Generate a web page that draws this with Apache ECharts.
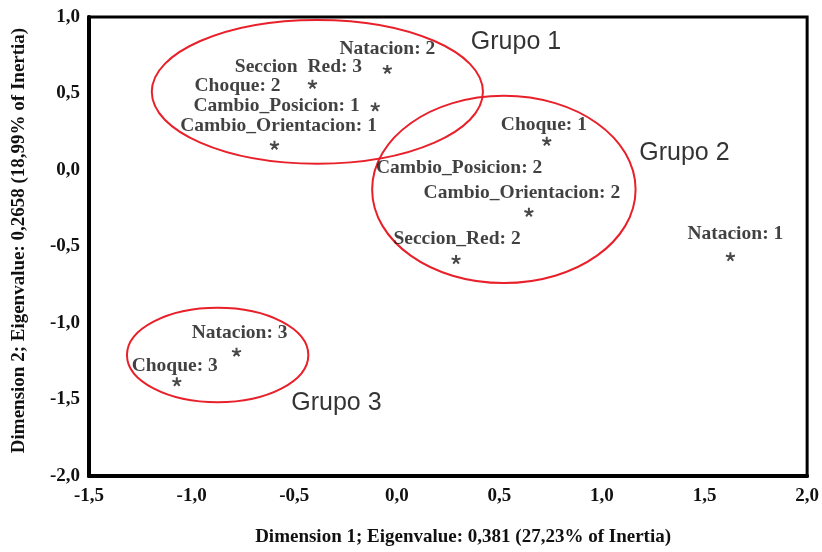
<!DOCTYPE html>
<html>
<head>
<meta charset="utf-8">
<script src="https://cdn.jsdelivr.net/npm/echarts@6/dist/echarts.min.js"></script>
<style>html,body{margin:0;padding:0;background:#fff}#c{width:822px;height:552px}</style>
</head>
<body>
<div id="c"></div>
<script>
// ---- data ----
const categoryNames = ['Natacion: 2','Seccion_Red: 3','Cambio_Posicion: 1','Cambio_Orientacion: 1','Choque: 1','Cambio_Orientacion: 2','Seccion_Red: 2','Natacion: 1','Natacion: 3','Choque: 3'];
const dim1 = [-0.046, -0.411, -0.105, -0.596, 0.731, 0.644, 0.289, 1.626, -0.781, -1.072];
const dim2 = [0.659, 0.562, 0.414, 0.163, 0.189, -0.275, -0.584, -0.565, -1.189, -1.383];

// point labels (text, anchor x, anchor y in data units)
const labelTexts = ['Natacion: 2','Seccion  Red: 3','Choque: 2','Cambio_Posicion: 1','Cambio_Orientacion: 1','Choque: 1','Cambio_Posicion: 2','Cambio_Orientacion: 2','Seccion_Red: 2','Natacion: 3','Choque: 3','Natacion: 1'];
const labelX = [-0.046, -0.479, -0.776, -0.586, -0.576, 0.717, 0.304, 0.610, 0.294, -0.766, -1.082, 1.650];
const labelY = [0.788, 0.672, 0.549, 0.420, 0.285, 0.292, 0.015, -0.153, -0.449, -1.067, -1.279, -0.417];

// group ellipses
const groupNames = ['Grupo 1','Grupo 2','Grupo 3'];
const groupCx = [-0.387, 0.522, -0.873];
const groupCy = [0.511, -0.127, -1.209];
const groupRx = [0.807, 0.642, 0.442];
const groupRy = [0.470, 0.612, 0.309];
const groupLabelX = [0.581, 1.402, -0.294];
const groupLabelY = [0.833, 0.111, -1.524];

// axes
const xTickLabels = ['-1,5','-1,0','-0,5','0,0','0,5','1,0','1,5','2,0'];
const yTickLabels = ['-2,0','-1,5','-1,0','-0,5','0,0','0,5','1,0'];
const xName = 'Dimension 1; Eigenvalue: 0,381 (27,23% of Inertia)';
const yName = 'Dimension 2; Eigenvalue: 0,2658 (18,99% of Inertia)';

// ---- chart ----
const serif = '"Liberation Serif","Times New Roman",serif';
const chart = echarts.init(document.getElementById('c'));
const X_MIN = -1.5, Y_MIN = -2.0, STEP = 0.5;

chart.setOption({
  animation: false,
  backgroundColor: '#fff',
  grid: { left: 89, top: 17, right: 13, bottom: 69, show: true, borderColor: '#000', borderWidth: 3, backgroundColor: 'transparent' },
  xAxis: {
    type: 'value', min: X_MIN, max: 2.0, interval: STEP,
    splitLine: { show: false }, axisTick: { show: false },
    axisLine: { show: true, onZero: false, lineStyle: { color: '#000', width: 4 } },
    axisLabel: { margin: 11, color: '#111', fontFamily: serif, fontWeight: 'bold', fontSize: 19,
      formatter: v => xTickLabels[Math.round((v - X_MIN) / STEP)] },
    name: xName, nameLocation: 'middle', nameGap: 52,
    nameTextStyle: { color: '#111', fontFamily: serif, fontWeight: 'bold', fontSize: 19, padding: [0,0,0,30] }
  },
  yAxis: {
    type: 'value', min: Y_MIN, max: 1.0, interval: STEP,
    splitLine: { show: false }, axisTick: { show: false },
    axisLine: { show: true, onZero: false, lineStyle: { color: '#000', width: 4 } },
    axisLabel: { margin: 9, color: '#111', fontFamily: serif, fontWeight: 'bold', fontSize: 19,
      formatter: v => yTickLabels[Math.round((v - Y_MIN) / STEP)] },
    name: yName, nameLocation: 'middle', nameGap: 60,
    nameTextStyle: { color: '#111', fontFamily: serif, fontWeight: 'bold', fontSize: 19, padding: [0,0,0,12] }
  },
  series: [
    {
      type: 'custom',
      silent: true,
      data: groupNames.map((n, i) => [groupCx[i], groupCy[i], groupRx[i], groupRy[i]]),
      renderItem: function (params, api) {
        const c = api.coord([api.value(0), api.value(1)]);
        const s = api.size([api.value(2), api.value(3)]);
        return { type: 'ellipse', shape: { cx: c[0], cy: c[1], rx: s[0], ry: s[1] },
          style: { fill: 'none', stroke: '#e8202a', lineWidth: 2 } };
      },
      z: 2
    },
    {
      type: 'scatter',
      name: 'points',
      data: categoryNames.map((n, i) => ({ name: n, value: [dim1[i], dim2[i]] })),
      symbol: 'path://M0,0L0,-5M0,0L4.76,-1.55M0,0L2.94,4.05M0,0L-2.94,4.05M0,0L-4.76,-1.55',
      symbolSize: 9,
      symbolKeepAspect: true,
      itemStyle: { color: 'rgba(0,0,0,0)', borderColor: '#1a1a1a', borderWidth: 2 },
      z: 3
    },
    {
      type: 'scatter',
      name: 'labels',
      silent: true,
      data: labelTexts.map((t, i) => ({ name: t, value: [labelX[i], labelY[i]] })),
      symbolSize: 0,
      label: { show: true, position: 'inside', formatter: p => p.name,
        color: '#111', fontFamily: serif, fontWeight: 'bold', fontSize: 19.5 },
      z: 4
    },
    {
      type: 'scatter',
      name: 'groups',
      silent: true,
      data: groupNames.map((t, i) => ({ name: t, value: [groupLabelX[i], groupLabelY[i]] })),
      symbolSize: 0,
      label: { show: true, position: 'inside', formatter: p => p.name,
        color: '#000', fontFamily: '"Liberation Sans", Arial, sans-serif', fontSize: 25 },
      z: 4
    }
  ]
});
</script>
</body>
</html>
